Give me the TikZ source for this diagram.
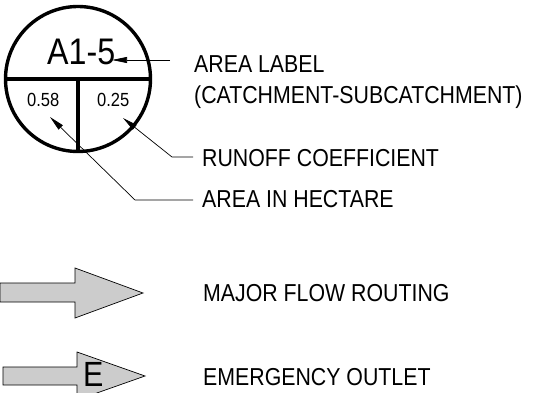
\documentclass[tikz,border=0pt]{standalone}
\usepackage{fontspec}
\setmainfont{Liberation Sans}[FakeStretch=0.87]
\usetikzlibrary{arrows.meta}

\tikzset{
  rim/.style={line width=3.4pt},
  leader/.style={line width=0.7pt,-{Triangle[length=15pt,width=6pt]}},
  blockarrow/.style={draw=black,line width=0.7pt,fill=black!20},
  lbl/.style={inner sep=0pt,anchor=base west,font=\fontsize{24.5}{28}\selectfont},
}

\begin{document}
\begin{tikzpicture}[x=1pt,y=-1pt]
            \useasboundingbox (0,0) rectangle (554,393);
            % the area symbol
            \draw[rim] (78,79) circle (72.5);
            \draw[rim] (6,79) -- (150,79);
            \draw[rim] (78,79) -- (78,151);
            \node[inner sep=0pt,anchor=base west,font=\fontsize{37}{40}\selectfont] (area) at (47,65) {A1-5};
            \node[inner sep=0pt,anchor=base west,font=\fontsize{19}{22}\selectfont] (hectare) at (27,107) {0.58};
            \node[inner sep=0pt,anchor=base west,font=\fontsize{19}{22}\selectfont] (coeff) at (97,107) {0.25};
            % the labels
            \node[lbl] (arealbl) at (194,73) {AREA LABEL};
            \node[lbl] (catchlbl) at (194,104) {(CATCHMENT-SUBCATCHMENT)};
            \node[lbl] (runofflbl) at (202,167) {RUNOFF COEFFICIENT};
            \node[lbl] (hectlbl) at (202,207) {AREA IN HECTARE};
            \node[lbl] (majorlbl) at (203,301) {MAJOR FLOW ROUTING};
            \node[lbl] (emerglbl) at (203,385) {EMERGENCY OUTLET};
            % the leaders
            \coordinate (areatip) at (112,60);
            \coordinate (runofftip) at (123,118);
            \coordinate (hecttip) at (50,117);
            \draw[leader] (170,60) -- (areatip);
            \draw[leader] (193,157) -- (172,157) -- (runofftip);
            \draw[leader] (193,200) -- (135,200) -- (hecttip);
            % the flow arrows
            \draw[blockarrow] (0,283) -- (75,283) -- (75,268) -- (143,293)
                -- (75,318) -- (75,302) -- (0,302) -- cycle;
            \draw[blockarrow] (3,367) -- (77,367) -- (77,352) -- (145,376)
                -- (77,400) -- (77,385) -- (3,385) -- cycle;
            \node[inner sep=0pt,anchor=base west,font=\fontsize{35}{38}\selectfont] (outlet) at (83,386) {E};
        \end{tikzpicture}
\end{document}
